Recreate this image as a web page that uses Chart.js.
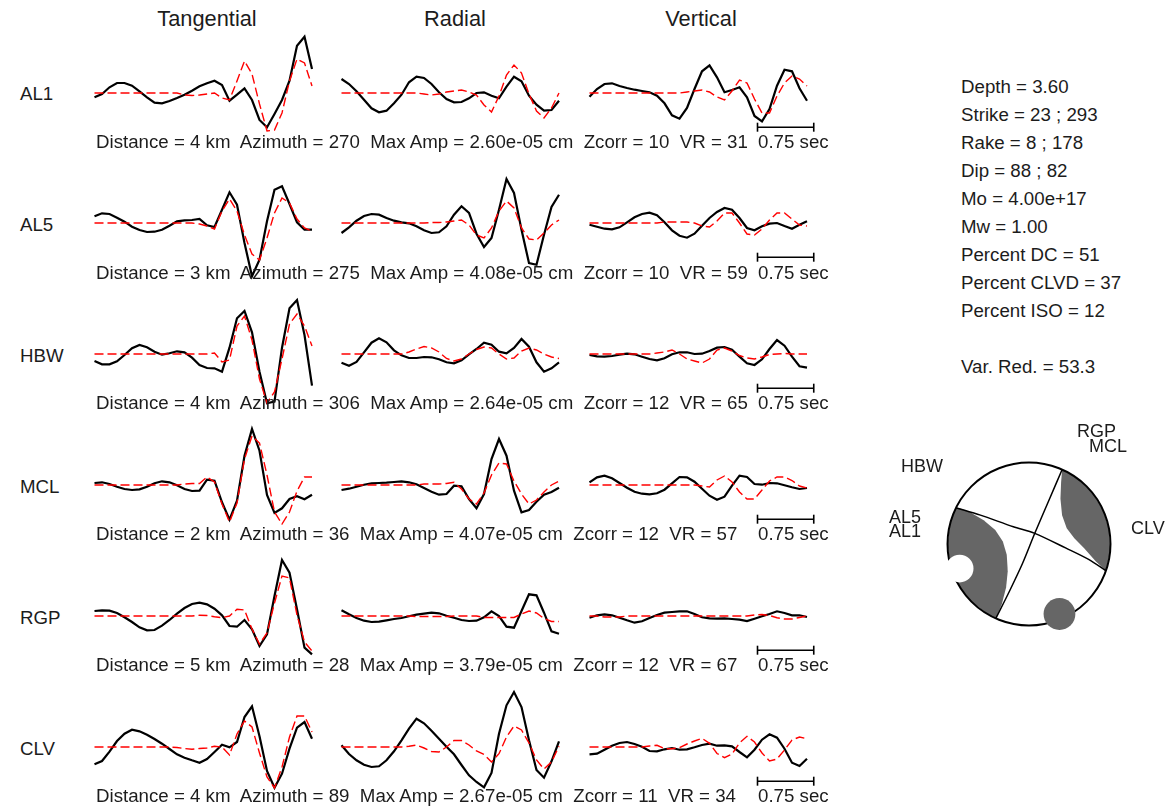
<!DOCTYPE html>
<html>
<head>
<meta charset="utf-8">
<title>Moment tensor waveform fit</title>
<script src="https://cdn.jsdelivr.net/npm/chart.js@4.4.1/dist/chart.umd.min.js"></script>
<style>
    html, body {
        margin: 0;
        padding: 0;
        background: #ffffff;
    }
    #page {
        position: relative;
        width: 1168px;
        height: 809px;
        overflow: hidden;
        font-family: "Liberation Sans", Arial, Helvetica, sans-serif;
        color: #1c1c1c;
    }
    #page canvas {
        position: absolute;
    }
    .txt {
        position: absolute;
        white-space: pre;
        line-height: 1;
    }
</style>
</head>
<body>
<div id="page"></div>
<script>
// stations and components
let stations = ['AL1', 'AL5', 'HBW', 'MCL', 'RGP', 'CLV'];
let components = ['Tangential', 'Radial', 'Vertical'];
let distanceKm = [4, 3, 4, 2, 5, 4];
let azimuthDeg = [270, 275, 306, 36, 28, 89];
let maxAmpCm = ['2.60e-05', '4.08e-05', '2.64e-05', '4.07e-05', '3.79e-05', '2.67e-05'];
let zcorr = [10, 10, 12, 12, 12, 11];
let stationVR = [31, 59, 65, 57, 67, 34];

// sampling
let sampleInterval = 0.1; // sec
let scaleBarSec = 0.75;

// waveforms, normalised amplitude (obs = data, syn = synthetic)
let AL1_tan_obs = [-4.3, -1, 5.7, 10, 10, 7.3, 1.7, -4.3, -9.7, -10.3, -8, -5, -1.7, 2.3, 6.7, 9.7, 12.3, 8, -7.7, -1.7, 4.7, -7, -27, -34.3, -21, -7, 12.3, 47.3, 56.3, 24];
let AL1_tan_syn = [0, 0, 0, 0, 0, 0, 0, 0, 0, 0, 0, 0, -2, -2.5, -2, -1, 0, -5, -7, 12, 32, 19, -11, -38, -37, -20, 12, 34, 30, 7];
let AL1_rad_obs = [14, 9, 1.7, -6.7, -15.3, -19.3, -17.7, -10.3, -1.7, 10.7, 16.3, 15, 9, 0.7, -6, -9.3, -9, -5.3, 0, 0.7, -2.7, -5.3, 6.3, 16.3, 11.7, -2.7, -11.7, -17.7, -17, -7.7];
let AL1_rad_syn = [0, 0, 0, 0, 0, 0, 0, 0, 0, 0, 0, -1, -2, -1, 1, 2, 3, 1, -2, -12, -19, -3, 18, 28, 20, -1, -18, -25, -15, 0];
let AL1_ver_obs = [-3.7, 4, 9, 9.7, 7, 5, 3.3, 2, 0.7, -2.7, -10.3, -22.3, -25.7, -15, 4, 21.7, 27.7, 15.7, 0.7, 3, 5.7, -4.3, -23, -28.3, -16, 7.3, 23.3, 21.7, 4.7, -7.7];
let AL1_ver_syn = [0, 0, 0, 0, 0, 0, 0, 0, 0, 0, 0, 0, 0, 1, 2, 3, 1, -4, -7, 2, 13, 10, -6, -20, -20, -3, 10, 17, 14, 7];

let AL5_tan_obs = [6.7, 9.7, 9, 5.3, 1.3, -3.7, -7, -9, -8.7, -6.7, -2.7, 1.7, 2.7, 3, 4, -2.3, -4, 13.3, 30.7, 18.3, -20, -53.3, -36.7, 1.7, 33.3, 36.7, 19, 0.7, -6.7, -6.7];
let AL5_tan_syn = [0, 0, 0, 0, 0, 0, 0, 0, 0, 0, 0, 0, 0, 0, -1, -3, -6, 12, 24, 12, -12, -31, -37, -15, 10, 25, 20, 4, -5, -8];
let AL5_rad_obs = [-10, -4.3, 2.3, 7, 9, 8.3, 5, 2.3, 0.7, -0.3, -3.3, -7.3, -10, -9.3, -3.3, 8.3, 16.7, 10, -10.7, -24, -15, 13.3, 44, 30, -6.7, -40, -41.7, -11.7, 16, 28.3];
let AL5_rad_syn = [0, 0, 0, 0, 0, 0, 0, 0, 0, 0, 0, 0, 0.5, 0.5, 1, 2, 3, -2, -12, -15, -5, 12, 22, 15, -5, -16, -17, -10, -2, 3];
let AL5_ver_obs = [-1.7, -3.7, -5.7, -6.3, -4.3, 0.7, 5.7, 9, 10.3, 7.7, 0.7, -7.3, -12.7, -14.7, -10.7, -2.7, 5, 11, 15, 13.3, 5, -5, -7.3, -3.3, -0.7, 0, -3, -5.7, -1.7, 1.7];
let AL5_ver_syn = [0, 0, 0, 0, 0, 0, 0, 0, 0, 0, 1, 1, 1, 1, 0, -3, -4, 2, 10, 10, 0, -11, -12, -6, 3, 10, 10, 4, -2, -3];

let HBW_tan_obs = [-7, -10.3, -10.3, -7.3, -1, 5.7, 9, 6.7, 2.3, -0.7, 0.7, 2.7, 1.7, -3.7, -11, -14, -14.3, -17.7, 6.3, 35.7, 43, 21.7, -17.7, -49.3, -47.7, 6.3, 45.7, 54, 19, -31.7];
let HBW_tan_syn = [0, 0, 0, 0, 0, 0, 0, 0, 0, 0, 0, 0, 0, 0, 0, 0, 1, -8, -6, 28, 38, 14, -25, -49, -38, -5, 30, 40, 28, 8];
let HBW_rad_obs = [-8.7, -11.7, -8, 1.7, 11.3, 15.7, 11.7, 3.7, -1.3, -4, -4, -3, -3.3, -5.3, -8.3, -9.3, -6.3, -0.3, 5, 11.3, 9.3, 2.3, 0.7, 6, 15, 7.3, -8.3, -17.7, -14.3, -8.3];
let HBW_rad_syn = [0, 0, 0, 0, 0, 0, 0, 0, 0, 2, 5, 7.5, 6, 2, -4.5, -7, -5, 0, 4.5, 7, 6, 0, -5, -4, 3, 6, 4, 0, -3, -4.5];
let HBW_ver_obs = [-1, -2.3, -2.7, -2, -0.7, 0.3, -0.3, -2.7, -5, -6.3, -4.3, -0.3, 1.7, 1.7, 0, 0.3, 3, 6.3, 7, 4.3, -2.7, -9.3, -11, -5.3, 5, 14, 8.3, -2.7, -12.3, -13.7];
let HBW_ver_syn = [0, 0, 0, 0, 0, 0, 0, 0, 0, 1, 2, 4, 0, -5, -7, -9, -5, 4, 6, 3, -1.5, -4, -5, -3, -0.5, 0, 0.5, 0, 0, 0];

let MCL_tan_obs = [2, 2.7, 1, -1.7, -4, -5, -4.3, -1.7, 1.7, 3.7, 2.7, -0.3, -4, -6, -5.7, 5.3, 4.3, -17.3, -34.7, -15.7, 29.3, 56, 34.3, -10, -28, -23.3, -14, -11.3, -14.3, -9.7];
let MCL_tan_syn = [0, 0, 0, 0, 0, 0, 0, 0, 0, 0, 0, 0, 1, 1.5, 1.5, 8, 3, -19, -37, -18, 26, 49, 42, 10, -27, -39, -27, -6, 8, 8];
let MCL_rad_obs = [-5, -3.7, -1.7, 0.3, 1.7, 2, 2.3, 3, 3.7, 2.7, 0.7, -3, -6.7, -9.7, -9, -0.7, -1.3, -14, -23.3, -9, 26, 46, 29.3, -5.7, -27.3, -25, -16.7, -9.7, -7, -2.7];
let MCL_rad_syn = [0, 0, 0, 0, 0, 0, 0, 0, 0, 0, 0, 1, 1, 1, 1.5, 2.7, -4, -14, -19, -8, 10, 22, 21, 4, -9, -19, -15, -7, 0, 4];
let MCL_ver_obs = [2.7, 7.7, 9.3, 6.7, 2, -2.7, -6.7, -8.7, -9.3, -8.3, -4.7, 1.7, 8, 7.7, 3.3, -3.7, -10.7, -14.7, -11.7, -0.7, 9.3, 8, 1, 0.3, 2, 1.7, -0.3, -2.3, -4, -3];
let MCL_ver_syn = [0, 0, 0, 0, 0, 0, 0, 0, 0, 0, 0, 0, 0, 0, 0, -1, -2, 5, 9, 3, -7, -14, -14, -5, 4, 8, 8, 4.5, -1, -3];

let RGP_tan_obs = [5, 5.7, 5.3, 3, -1.3, -6, -11.3, -14.3, -14, -9.7, -4, 2.3, 8, 12, 13.3, 11.7, 7.3, 0.7, -10, -10.7, -4, -13.3, -30, -18.3, 20, 56, 43.3, 6.7, -31.7, -38.3];
let RGP_tan_syn = [0, 0, 0, 0, 0, 0, 0, 0, 0, 0, 0, 0, 0, 0, 0.7, 0.5, -0.7, -1.7, 0, 6.7, 6, -13, -28, -17, 13, 40, 38, 1, -26, -35];
let RGP_rad_obs = [5.7, 1.7, -2, -4.7, -6, -5.7, -4.3, -3, -2, -0.3, 1.3, 2.3, 3.3, 2.7, 0.3, -1.7, -4, -5, -4.7, -1.3, 4.7, 0, -10.7, -11.7, 5, 21.7, 20.7, 3.3, -15.3, -17.7];
let RGP_rad_syn = [0, 0, 0, 0, 0, 0, 0, 0, 0, 0, -0.5, -0.5, -0.5, -0.5, -0.5, 0, 0, 0, 0, -1.5, -1.5, -1.5, -1.5, -1.5, 2, 5, 3, -2.5, -5.5, -5.5];
let RGP_ver_obs = [-1.7, 0.7, 1.7, 0.7, -1.7, -4.3, -6.7, -5.3, -2, 1, 3.3, 4, 4.7, 4.7, 2, -1.3, -2.3, -2.7, -2.3, -3, -3.7, -5, -2.7, -0.3, 2, 4.7, 3, 0.7, 0.7, -1];
let RGP_ver_syn = [0, 0, -1, -1, -1, 0, 0, 0, 0, 0, 0, 0, 0, 0, 0, 0, 0, 0, 0, 0, 0, 0, 1, 1.5, 0.5, -1.7, -3, -3, -1.5, 0];

let CLV_tan_obs = [-17.3, -14, -4.7, 6, 13.3, 17.3, 15.7, 12.3, 8, 3.3, -2, -7.3, -10.7, -13.3, -15.7, -12, -5, 2.3, -0.3, 5, 30, 40.7, 10.7, -24, -40.7, -26.7, -1.7, 19.3, 25, 8.3];
let CLV_tan_syn = [0, 0, 0, 0, 0, 0, 0, 0, 0, 0, 0, -0.5, -1.5, -2.3, -1.5, -1, 0.7, 0, -8, 13, 26, 20, -6, -30, -41, -20, 10, 31, 31, 15];
let CLV_rad_obs = [1.7, -7, -13.3, -17.7, -20, -19.3, -13.3, -4.3, 6.7, 18.3, 28.3, 23.7, 16.3, 8.3, 0.3, -7.3, -18, -28.3, -35, -40.3, -26, 13.3, 41.7, 55, 40, 6.7, -23, -30.7, -14.3, 5.7];
let CLV_rad_syn = [0, 0, 0, 0, 0, 0, 0, 0, 0, 0.7, 2, -1, -4.5, -5, 0, 6.5, 6.5, 2, -4, -7.5, -15, -6.7, 10, 21, 17, 4, -13, -22, -15, 0.7];
let CLV_ver_obs = [-7.3, -6.7, -2.7, 1.3, 4, 5, 3, 0.3, -4, -4.3, -2.3, -1, -2.7, -2.3, -0.3, 2, 3.3, 1.3, 1.7, 0.7, -5, -10.3, -2.7, 7.3, 12.7, 9.3, -1.7, -15.7, -19, -11.7];
let CLV_ver_syn = [0, 0, 0, 0, 0, 0, 0, 0, 1, 1.7, -1.7, -1.7, -0.7, 3, 6, 8.7, 3.7, -6.5, -10.7, -7, 4, 10.7, 5, -6, -14, -12, -3, 7, 10, 8.3];

// solution summary
let solutionNames = ['Depth', 'Strike', 'Rake', 'Dip', 'Mo', 'Mw', 'Percent DC', 'Percent CLVD', 'Percent ISO'];
let solutionValues = ['3.60', '23 ; 293', '8 ; 178', '88 ; 82', '4.00e+17', '1.00', '51', '37', '12'];
let totalVarRed = '53.3';

// focal mechanism, unit circle coordinates
let ballEastLobe = [
    {x: 0.407, y: 0.914}, {x: 0.394, y: 0.758}, {x: 0.386, y: 0.556}, {x: 0.406, y: 0.354},
    {x: 0.463, y: 0.192}, {x: 0.556, y: 0.071}, {x: 0.677, y: -0.051}, {x: 0.818, y: -0.212},
    {x: 0.944, y: -0.329}, {x: 0.996, y: -0.087}, {x: 0.985, y: 0.174}, {x: 0.906, y: 0.423},
    {x: 0.766, y: 0.643}, {x: 0.574, y: 0.819}, {x: 0.407, y: 0.914}
];
let ballWestLobe = [
    {x: -0.896, y: 0.445}, {x: -0.966, y: 0.259}, {x: -1, y: 0}, {x: -0.966, y: -0.259},
    {x: -0.866, y: -0.5}, {x: -0.707, y: -0.707}, {x: -0.5, y: -0.866}, {x: -0.407, y: -0.914},
    {x: -0.333, y: -0.737}, {x: -0.281, y: -0.535}, {x: -0.261, y: -0.333}, {x: -0.273, y: -0.131},
    {x: -0.321, y: 0.03}, {x: -0.414, y: 0.172}, {x: -0.556, y: 0.293}, {x: -0.717, y: 0.386},
    {x: -0.859, y: 0.442}, {x: -0.896, y: 0.445}
];
let nodalPlane1 = [
    {x: 0.407, y: 0.914}, {x: 0.25, y: 0.55}, {x: 0.071, y: 0.131}, {x: -0.08, y: -0.24},
    {x: -0.24, y: -0.58}, {x: -0.407, y: -0.914}
];
let nodalPlane2 = [
    {x: -0.896, y: 0.445}, {x: -0.596, y: 0.354}, {x: -0.192, y: 0.212}, {x: 0.071, y: 0.131},
    {x: 0.455, y: -0.051}, {x: 0.737, y: -0.192}, {x: 0.944, y: -0.329}
];
let ballWhiteMarker = [{x: -0.851, y: -0.301}];
let ballGrayMarker = [{x: 0.374, y: -0.859}];

// ---------- layout ----------
let page = document.getElementById('page');
let ROW_Y0 = 92.5;
let ROW_STEP = 130.9;
let COL_X = [94.5, 341.8, 589.3];
let PX_PER_SEC = 75;
let T_MIN = -0.1, T_MAX = 3.1;
let AMP_HALF = 70;
let FONT = 18.7;
let scaleBarStart = 2.24;
let scaleBarAmp = -34.2;

let waveforms = {
    AL1: [[AL1_tan_obs, AL1_tan_syn], [AL1_rad_obs, AL1_rad_syn], [AL1_ver_obs, AL1_ver_syn]],
    AL5: [[AL5_tan_obs, AL5_tan_syn], [AL5_rad_obs, AL5_rad_syn], [AL5_ver_obs, AL5_ver_syn]],
    HBW: [[HBW_tan_obs, HBW_tan_syn], [HBW_rad_obs, HBW_rad_syn], [HBW_ver_obs, HBW_ver_syn]],
    MCL: [[MCL_tan_obs, MCL_tan_syn], [MCL_rad_obs, MCL_rad_syn], [MCL_ver_obs, MCL_ver_syn]],
    RGP: [[RGP_tan_obs, RGP_tan_syn], [RGP_rad_obs, RGP_rad_syn], [RGP_ver_obs, RGP_ver_syn]],
    CLV: [[CLV_tan_obs, CLV_tan_syn], [CLV_rad_obs, CLV_rad_syn], [CLV_ver_obs, CLV_ver_syn]]
};

function addText(str, left, baseline, size, center) {
    let d = document.createElement('div');
    d.className = 'txt';
    d.textContent = str;
    d.style.fontSize = size + 'px';
    d.style.left = left + 'px';
    d.style.top = (baseline - 0.8465 * size) + 'px';
    if (center) d.style.transform = 'translateX(-50%)';
    page.appendChild(d);
}

function addCanvas(left, top, w, h) {
    let c = document.createElement('canvas');
    c.width = w;
    c.height = h;
    c.style.left = left + 'px';
    c.style.top = top + 'px';
    c.style.width = w + 'px';
    c.style.height = h + 'px';
    page.appendChild(c);
    return c;
}

function toSeries(values) {
    return values.map(function (v, i) {
        return {x: Math.round(i * sampleInterval * 100) / 100, y: v};
    });
}

let baseOptions = {
    responsive: false,
    animation: false,
    events: [],
    layout: {padding: 0, autoPadding: false},
    plugins: {legend: {display: false}, tooltip: {enabled: false}}
};

// column titles
addText('Tangential', 207, 26.5, 21.8, true);
addText('Radial', 455, 26.5, 21.8, true);
addText('Vertical', 701, 26.5, 21.8, true);

stations.forEach(function (sta, row) {
    let base = ROW_Y0 + row * ROW_STEP;
    addText(sta, 20, base + 8.5, FONT);

    components.forEach(function (comp, col) {
        let pair = waveforms[sta][col];
        let w = Math.round((T_MAX - T_MIN) * PX_PER_SEC);
        let h = AMP_HALF * 2;
        let canvas = addCanvas(COL_X[col] + T_MIN * PX_PER_SEC, base - AMP_HALF, w, h);
        let datasets = [
            {
                label: sta + ' ' + comp + ' data',
                data: toSeries(pair[0]),
                borderColor: '#000000',
                borderWidth: 2.2,
                pointRadius: 0,
                tension: 0,
                fill: false,
                order: 2
            },
            {
                label: sta + ' ' + comp + ' synthetic',
                data: toSeries(pair[1]),
                borderColor: '#ff0000',
                borderWidth: 1.4,
                borderDash: [9, 4],
                pointRadius: 0,
                tension: 0,
                fill: false,
                order: 1
            }
        ];
        if (col === 2) {
            datasets.push({
                label: scaleBarSec + ' sec',
                data: [{x: scaleBarStart, y: scaleBarAmp}, {x: scaleBarStart + scaleBarSec, y: scaleBarAmp}],
                borderColor: '#000000',
                borderWidth: 1.6,
                pointStyle: 'line',
                rotation: 90,
                pointRadius: 4.5,
                pointBorderWidth: 1.6,
                pointBorderColor: '#000000',
                fill: false,
                order: 3
            });
        }
        new Chart(canvas, {
            type: 'line',
            data: {datasets: datasets},
            options: Object.assign({}, baseOptions, {
                scales: {
                    x: {type: 'linear', display: false, min: T_MIN, max: T_MAX},
                    y: {type: 'linear', display: false, min: -AMP_HALF, max: AMP_HALF}
                }
            })
        });
    });

    let info = 'Distance = ' + distanceKm[row] + ' km  Azimuth = ' + azimuthDeg[row] +
        '  Max Amp = ' + maxAmpCm[row] + ' cm  Zcorr = ' + zcorr[row] + '  VR = ' + stationVR[row];
    addText(info, 96, base + 56, FONT);
    addText(scaleBarSec + ' sec', 758, base + 56, FONT);
});

// solution text
solutionNames.forEach(function (name, i) {
    addText(name + ' = ' + solutionValues[i], 961, 94 + i * 28, FONT);
});
addText('Var. Red. = ' + totalVarRed, 961, 374, FONT);

// focal mechanism
let BALL_SIZE = 220;
let BALL_RANGE = 1.35;
let ballPx = BALL_SIZE / (2 * BALL_RANGE);
let ballCanvas = addCanvas(1029 - BALL_SIZE / 2, 544.3 - BALL_SIZE / 2, BALL_SIZE, BALL_SIZE);
let ballGray = '#666666';

new Chart(ballCanvas, {
    type: 'scatter',
    data: {
        datasets: [
            {type: 'line', data: ballEastLobe, fill: 'shape', backgroundColor: ballGray, borderWidth: 0, pointRadius: 0, tension: 0, order: 5},
            {type: 'line', data: ballWestLobe, fill: 'shape', backgroundColor: ballGray, borderWidth: 0, pointRadius: 0, tension: 0, order: 5},
            {
                data: [{x: 0, y: 0}],
                pointRadius: ballPx,
                pointBackgroundColor: 'rgba(0,0,0,0)',
                pointBorderColor: '#000000',
                pointBorderWidth: 2,
                order: 4
            },
            {type: 'line', data: nodalPlane1, fill: false, borderColor: '#000000', borderWidth: 1.5, pointRadius: 0, tension: 0.3, order: 3},
            {type: 'line', data: nodalPlane2, fill: false, borderColor: '#000000', borderWidth: 1.5, pointRadius: 0, tension: 0.3, order: 3},
            {data: ballWhiteMarker, pointRadius: 0.17 * ballPx, pointBackgroundColor: '#ffffff', pointBorderWidth: 0, order: 1},
            {data: ballGrayMarker, pointRadius: 0.195 * ballPx, pointBackgroundColor: ballGray, pointBorderWidth: 0, order: 1}
        ]
    },
    options: Object.assign({}, baseOptions, {
        scales: {
            x: {type: 'linear', display: false, min: -BALL_RANGE, max: BALL_RANGE},
            y: {type: 'linear', display: false, min: -BALL_RANGE, max: BALL_RANGE}
        }
    })
});

// station names around the ball
addText('RGP', 1077, 437, 18);
addText('MCL', 1089, 452, 18);
addText('HBW', 901, 472, 18);
addText('AL5', 889, 523, 18);
addText('AL1', 889, 537, 18);
addText('CLV', 1131, 534, 18);
</script>
</body>
</html>
